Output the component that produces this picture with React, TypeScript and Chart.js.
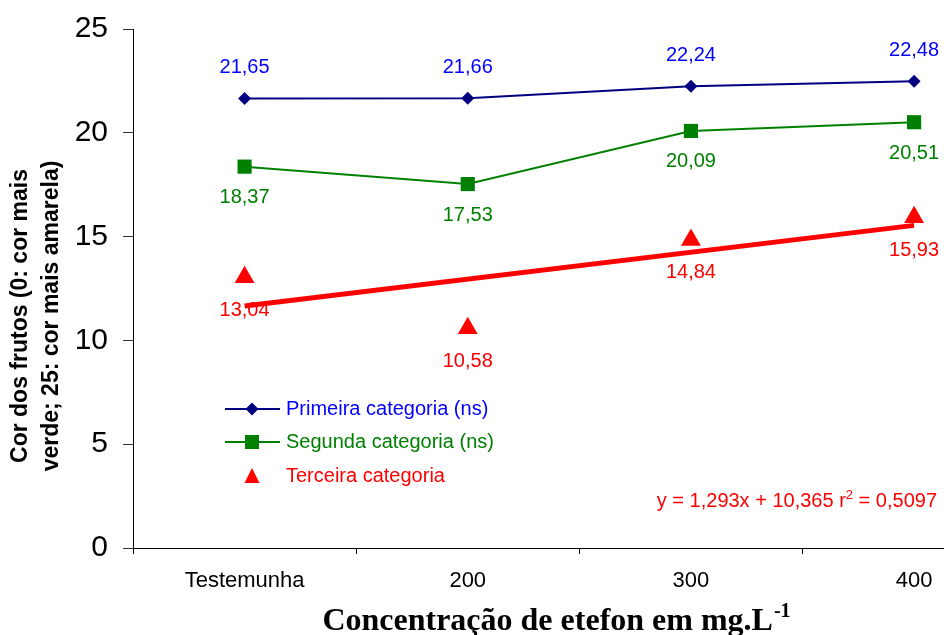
import { useEffect, useRef } from 'react';
import { Chart, registerables } from 'chart.js';

Chart.register(...registerables);

// ---- data ----
const categories = ['Testemunha', '200', '300', '400'];
const primeira = [21.65, 21.66, 22.24, 22.48];
const segunda = [18.37, 17.53, 20.09, 20.51];
const terceira = [13.04, 10.58, 14.84, 15.93];
// regression line (start / end)
const trendX = [1, 4];
const trendY = [11.66, 15.54];
const yTicks = [0, 5, 10, 15, 20, 25];
const seriesNames = ['Primeira categoria (ns)', 'Segunda categoria (ns)', 'Terceira categoria'];
const equationMain = 'y = 1,293x + 10,365 r';
const equationSup = '2';
const equationTail = ' = 0,5097';
const xTitle = 'Concentração de etefon em mg.L';
const xTitleSup = '-1';
const yTitleLines = ['Cor dos frutos (0: cor mais', 'verde; 25: cor mais amarela)'];

const SANS = '"Liberation Sans", Arial, Helvetica, sans-serif';
const SERIF = '"Liberation Serif", "Times New Roman", serif';

const NAVY = '#000080';
const BLUE = '#0000FF';
const GREEN = '#008000';
const RED = '#FF0000';

const labelStyle: Record<number, { color: string; dy: number }> = {
  0: { color: BLUE, dy: -31 },
  1: { color: GREEN, dy: 31 },
  2: { color: RED, dy: 33 },
};

function fmt(v: number) {
  return v.toFixed(2).replace('.', ',');
}

const valueLabels = {
  id: 'valueLabels',
  afterDatasetsDraw(chart: any) {
    const ctx = chart.ctx;
    ctx.save();
    ctx.font = `20px ${SANS}`;
    ctx.textAlign = 'center';
    ctx.textBaseline = 'middle';
    chart.data.datasets.forEach((ds: any, i: number) => {
      const st = labelStyle[i];
      if (!st) return;
      const meta = chart.getDatasetMeta(i);
      meta.data.forEach((pt: any, j: number) => {
        ctx.fillStyle = st.color;
        ctx.fillText(fmt(ds.data[j].y), pt.x, pt.y + st.dy);
      });
    });
    ctx.restore();
  },
};

function diamond(ctx: CanvasRenderingContext2D, x: number, y: number, r: number) {
  ctx.beginPath();
  ctx.moveTo(x, y - r);
  ctx.lineTo(x + r, y);
  ctx.lineTo(x, y + r);
  ctx.lineTo(x - r, y);
  ctx.closePath();
  ctx.fill();
}

const decorations = {
  id: 'decorations',
  afterDraw(chart: any) {
    const ctx: CanvasRenderingContext2D = chart.ctx;
    ctx.save();
    // legend
    const rows = [409, 442, 476];
    const x0 = 225, x1 = 280, xm = 252, xt = 286;
    ctx.font = `20px ${SANS}`;
    ctx.textAlign = 'left';
    ctx.textBaseline = 'middle';
    // row 1
    ctx.strokeStyle = NAVY; ctx.lineWidth = 2;
    ctx.beginPath(); ctx.moveTo(x0, rows[0]); ctx.lineTo(x1, rows[0]); ctx.stroke();
    ctx.fillStyle = NAVY; diamond(ctx, xm, rows[0], 6.5);
    ctx.fillStyle = BLUE; ctx.fillText(seriesNames[0], xt, rows[0]);
    // row 2
    ctx.strokeStyle = GREEN;
    ctx.beginPath(); ctx.moveTo(x0, rows[1]); ctx.lineTo(x1, rows[1]); ctx.stroke();
    ctx.fillStyle = GREEN; ctx.fillRect(xm - 7, rows[1] - 7, 14, 14);
    ctx.fillText(seriesNames[1], xt, rows[1]);
    // row 3
    ctx.fillStyle = RED;
    ctx.beginPath();
    ctx.moveTo(xm, rows[2] - 8);
    ctx.lineTo(xm + 7.5, rows[2] + 7);
    ctx.lineTo(xm - 7.5, rows[2] + 7);
    ctx.closePath(); ctx.fill();
    ctx.fillText(seriesNames[2], xt, rows[2]);

    // equation
    ctx.textBaseline = 'alphabetic';
    const eqFont = `20px ${SANS}`;
    const supFont = `13px ${SANS}`;
    ctx.font = eqFont;
    const w1 = ctx.measureText(equationMain).width;
    const w3 = ctx.measureText(equationTail).width;
    ctx.font = supFont;
    const w2 = ctx.measureText(equationSup).width;
    const eqRight = 937, eqBase = 507;
    let ex = eqRight - (w1 + w2 + w3);
    ctx.fillStyle = RED;
    ctx.font = eqFont; ctx.fillText(equationMain, ex, eqBase); ex += w1;
    ctx.font = supFont; ctx.fillText(equationSup, ex, eqBase - 8); ex += w2;
    ctx.font = eqFont; ctx.fillText(equationTail, ex, eqBase);

    // x title
    ctx.fillStyle = '#000';
    const tFont = `bold 32px ${SERIF}`;
    const tsFont = `bold 20px ${SERIF}`;
    ctx.font = tFont;
    const tw = ctx.measureText(xTitle).width;
    ctx.font = tsFont;
    const tsw = ctx.measureText(xTitleSup).width;
    let tx = 556 - (tw + tsw) / 2;
    ctx.font = tFont; ctx.fillText(xTitle, tx, 630); tx += tw + 1;
    ctx.font = tsFont; ctx.fillText(xTitleSup, tx, 617);

    // y title
    ctx.font = `bold 23px ${SANS}`;
    ctx.textAlign = 'center';
    const ybx = [27, 58];
    yTitleLines.forEach((line, i) => {
      ctx.save();
      ctx.translate(ybx[i], 316);
      ctx.rotate(-Math.PI / 2);
      ctx.fillText(line, 0, 0);
      ctx.restore();
    });
    ctx.restore();
  },
};

export default function App() {
  const ref = useRef<HTMLCanvasElement | null>(null);
  useEffect(() => {
    if (!ref.current) return;
    const pts = (arr: number[]) => arr.map((y, i) => ({ x: i + 1, y }));
    const chart = new Chart(ref.current, {
      type: 'line',
      data: {
        datasets: [
          {
            label: seriesNames[0],
            data: pts(primeira),
            borderColor: NAVY,
            backgroundColor: NAVY,
            borderWidth: 2,
            pointStyle: 'rectRot',
            pointRadius: 6.5,
            pointBorderWidth: 0,
            tension: 0,
          },
          {
            label: seriesNames[1],
            data: pts(segunda),
            borderColor: GREEN,
            backgroundColor: GREEN,
            borderWidth: 2,
            pointStyle: 'rect',
            pointRadius: 10,
            pointBorderWidth: 0,
            tension: 0,
          },
          {
            label: seriesNames[2],
            data: pts(terceira),
            borderColor: RED,
            backgroundColor: RED,
            showLine: false,
            pointStyle: 'triangle',
            pointRadius: 11.5,
            pointBorderWidth: 0,
          },
          {
            label: 'trend',
            data: trendX.map((x, i) => ({ x, y: trendY[i] })),
            borderColor: RED,
            borderWidth: 5,
            pointRadius: 0,
            tension: 0,
          },
        ],
      } as any,
      options: {
        animation: false,
        responsive: false,
        maintainAspectRatio: false,
        layout: { autoPadding: false, padding: { top: 29, right: 0, left: 0, bottom: 0 } },
        plugins: {
          legend: { display: false },
          tooltip: { enabled: false },
          title: { display: false },
        },
        scales: {
          x: {
            type: 'linear',
            min: 0.5,
            max: 4.134,
            afterBuildTicks: (scale: any) => {
              scale.ticks = [0.5, 1, 1.5, 2, 2.5, 3, 3.5, 4].map((v) => ({ value: v }));
            },
            afterFit: (scale: any) => {
              scale.height = 87;
              scale.paddingLeft = 0;
              scale.paddingRight = 0;
            },
            ticks: {
              autoSkip: false,
              maxRotation: 0,
              minRotation: 0,
              padding: 14,
              color: '#000',
              font: { size: 22, family: SANS },
              callback: (v: any) => (Number.isInteger(v) ? categories[v - 1] : ''),
            },
            grid: {
              drawOnChartArea: false,
              drawTicks: true,
              tickLength: 6,
              color: (c: any) => (c.tick && Number.isInteger(c.tick.value) ? 'rgba(0,0,0,0)' : '#000'),
            },
            border: { display: true, color: '#000', width: 1 },
          },
          y: {
            type: 'linear',
            min: 0,
            max: 25,
            afterBuildTicks: (scale: any) => {
              scale.ticks = yTicks.map((v) => ({ value: v }));
            },
            afterFit: (scale: any) => {
              scale.width = 133;
              scale.paddingTop = 0;
              scale.paddingBottom = 0;
            },
            ticks: {
              padding: 15,
              color: '#000',
              font: { size: 30, family: SANS },
            },
            grid: {
              drawOnChartArea: false,
              drawTicks: true,
              tickLength: 10,
              color: '#333',
            },
            border: { display: true, color: '#000', width: 1 },
          },
        },
      } as any,
      plugins: [valueLabels, decorations],
    });
    return () => chart.destroy();
  }, []);
  return (
    <div style={{ position: 'absolute', left: 0, top: 0, width: 944, height: 635, background: '#fff' }}>
      <canvas ref={ref} width={944} height={635} style={{ display: 'block' }} />
    </div>
  );
}
